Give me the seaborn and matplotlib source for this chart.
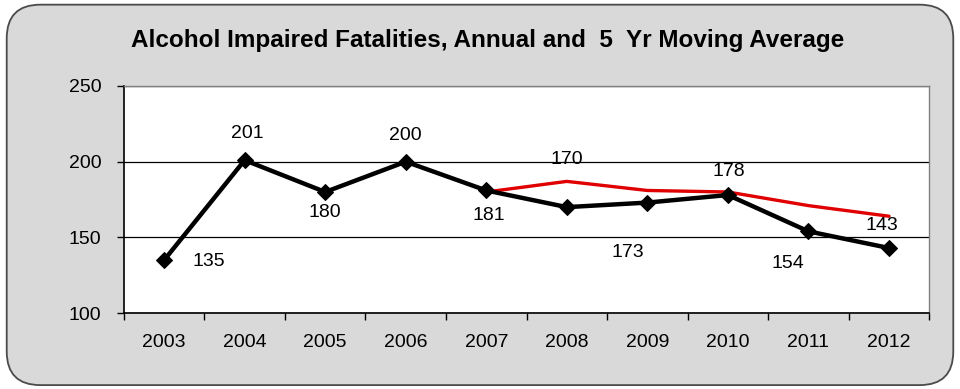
import matplotlib
matplotlib.use("Agg")
import matplotlib.pyplot as plt
from matplotlib.patches import FancyBboxPatch
import seaborn as sns
import pandas as pd

years = ["2003", "2004", "2005", "2006", "2007", "2008", "2009", "2010", "2011", "2012"]
annual = [135, 201, 180, 200, 181, 170, 173, 178, 154, 143]
ma_years = ["2007", "2008", "2009", "2010", "2011", "2012"]
moving_avg = [180, 187, 181, 180, 171, 164]
# label offsets in points (dx, dy) relative to each annual point
label_offsets = [(32, -1), (2, 19), (0, -15), (0, 19), (2, -18), (0, 34), (-14, -36), (1, 17), (-15, -23), (-5, 16)]

sns.set_theme(style="white")
plt.rcParams['font.family'] = ['Liberation Sans', 'DejaVu Sans']

df = pd.DataFrame({"x": range(len(years)), "value": annual})
df_ma = pd.DataFrame({"x": [years.index(y) for y in ma_years], "value": moving_avg})

fig = plt.figure(figsize=(9.6, 3.89), dpi=100)
fig.patch.set_facecolor("white")
bg = FancyBboxPatch((0.007, 0.01), 0.986, 0.978, boxstyle="round,pad=0,rounding_size=0.035",
                    transform=fig.transFigure, facecolor="#d9d9d9", edgecolor="#4a4a4a",
                    linewidth=1.3, mutation_aspect=960 / 389, zorder=-5)
fig.patches.append(bg)

ax = fig.add_axes([0.129, 0.195, 0.839, 0.584])
ax.set_facecolor("white")

sns.lineplot(data=df_ma, x="x", y="value", color="#e00000", linewidth=2.4, ax=ax, zorder=3)
sns.lineplot(data=df, x="x", y="value", color="black", linewidth=3.2, marker="D",
             markersize=8.5, markeredgecolor="black", ax=ax, zorder=4)

for i, v in enumerate(annual):
    dx, dy = label_offsets[i]
    ax.annotate(str(v), (i, v), xytext=(dx, dy), textcoords="offset points",
                ha="center", va="center", fontsize=14, color="black")

ax.set_xlim(-0.5, len(years) - 0.5)
ax.set_ylim(100, 250)
ax.set_yticks([100, 150, 200, 250])
ax.yaxis.grid(True, color="black", linewidth=0.9)
ax.set_axisbelow(True)

ax.set_xticks(range(len(years)))
ax.set_xticklabels(years)
ax.set_xticks([i - 0.5 for i in range(len(years) + 1)], minor=True)
ax.tick_params(axis="x", which="major", length=0, pad=15, labelsize=14, colors="black")
ax.tick_params(axis="x", which="minor", length=5, width=1, color="black", direction="out", bottom=True)
ax.tick_params(axis="y", which="major", length=5, width=1, color="black", direction="out",
               left=True, pad=11, labelsize=14, labelcolor="black")
ax.set_xlabel("")
ax.set_ylabel("")

for side in ["left", "bottom"]:
    ax.spines[side].set_color("black")
    ax.spines[side].set_linewidth(1.2)
for side in ["top", "right"]:
    ax.spines[side].set_color("#808080")
    ax.spines[side].set_linewidth(1.0)

fig.text(0.508, 0.895, "Alcohol Impaired Fatalities, Annual and  5  Yr Moving Average",
         ha="center", va="center", fontsize=17.5, fontweight="bold", color="black")

fig.savefig("out.png", dpi=100)
